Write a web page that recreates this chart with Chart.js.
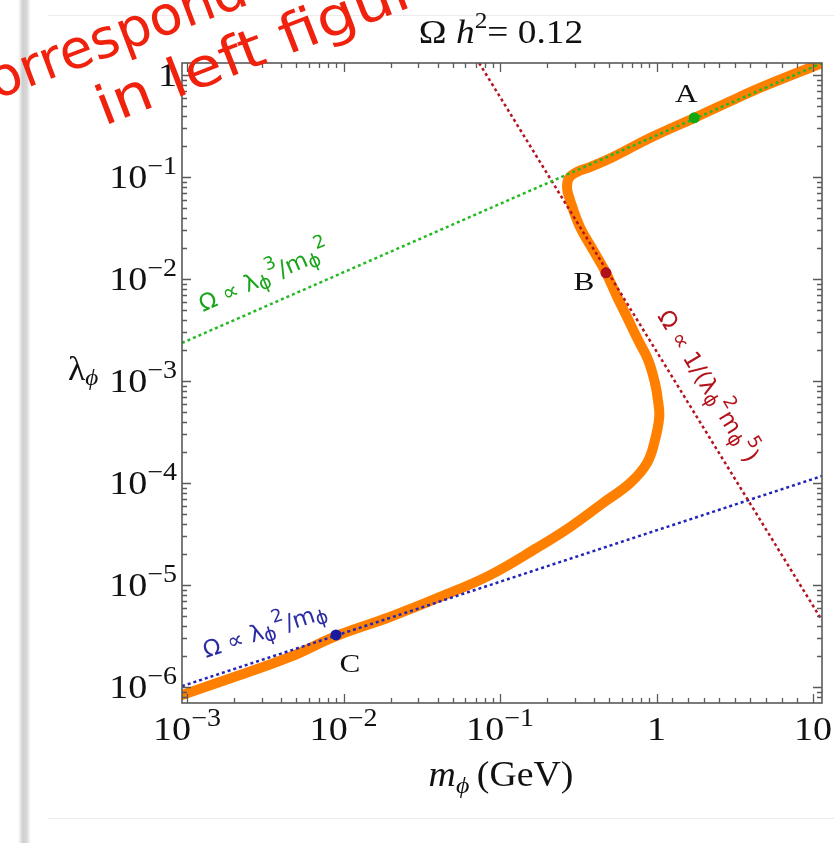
<!DOCTYPE html>
<html>
<head>
<meta charset="utf-8">
<script src="https://cdn.jsdelivr.net/npm/chart.js@4.4.1/dist/chart.umd.min.js"></script>
<style>
  html, body { margin: 0; padding: 0; background: #fff; }
  #wrap { width: 834px; height: 843px; position: relative; }
</style>
</head>
<body>
<div id="wrap"><canvas id="relic" width="834" height="843"></canvas></div>
<script>
// Omega h^2 = 0.12 contour (orange)
const orangeM = [9.29e-4, 2.18e-3, 4.55e-3, 8.95e-3, 1.98e-2, 4.14e-2, 8.63e-2, 0.172, 0.280, 0.455,
  0.678, 0.869, 0.977, 1.04, 1.02, 0.977, 0.883, 0.762, 0.647, 0.560, 0.475, 0.393, 0.324,
  0.280, 0.268, 0.276, 0.310, 0.376, 0.527, 0.908, 1.74, 3.08, 5.08, 11.4];
const orangeLambda = [8.35e-7, 1.31e-6, 1.97e-6, 3.16e-6, 4.86e-6, 7.63e-6, 1.25e-5, 2.31e-5, 3.7e-5, 6.37e-5,
  1.0e-4, 1.57e-4, 2.64e-4, 4.44e-4, 6.51e-4, 9.55e-4, 1.61e-3, 2.52e-3, 4.24e-3, 6.66e-3, 1.15e-2, 1.92e-2, 3.23e-2,
  5.95e-2, 7.8e-2, 9.78e-2, 0.112, 0.125, 0.157, 0.241, 0.379, 0.569, 0.798, 1.31];

// asymptotic scaling lines (end points)
const greenM = [9.29e-4, 11.4];
const greenLambda = [2.36e-3, 1.31];
const redM = [0.0735, 11.4];
const redLambda = [1.31, 4.5e-6];
const blueM = [9.29e-4, 11.4];
const blueLambda = [1.02e-6, 1.17e-4];

// benchmark points
const pointNames = ['A', 'B', 'C'];
const pointM = [1.74, 0.475, 8.95e-3];
const pointLambda = [0.38, 0.0115, 3.24e-6];

// axes
const xRange = [9.29e-4, 11.4];
const yRange = [6.97e-7, 1.31];
const xTickValues = [1e-3, 1e-2, 1e-1, 1, 10];
const xTickLabels = [['10', '−3'], ['10', '−2'], ['10', '−1'], ['1', ''], ['10', '']];
const yTickValues = [1e-6, 1e-5, 1e-4, 1e-3, 1e-2, 1e-1, 1];
const yTickLabels = [['10', '−6'], ['10', '−5'], ['10', '−4'], ['10', '−3'], ['10', '−2'], ['10', '−1'], ['1', '']];

const SERIF = '"Liberation Serif", "Times New Roman", serif';
const HAND = '"DejaVu Sans", sans-serif';

const pairs = (xs, ys) => xs.map((x, i) => ({ x: x, y: ys[i] }));

function drawParts(ctx, parts, x, y, o) {
  ctx.save();
  ctx.translate(x, y);
  if (o.angle) ctx.rotate(o.angle);
  ctx.scale(o.sx || 1, 1);
  ctx.fillStyle = o.color || '#111';
  ctx.textBaseline = 'alphabetic';
  ctx.textAlign = 'left';
  let w = 0;
  parts.forEach(p => { ctx.font = p.f; w += ctx.measureText(p.t).width; });
  let cx = o.align === 'center' ? -w / 2 : (o.align === 'right' ? -w : 0);
  parts.forEach(p => {
    ctx.font = p.f;
    ctx.fillText(p.t, cx, p.dy || 0);
    cx += ctx.measureText(p.t).width;
  });
  ctx.restore();
}

function tickParts(lbl) {
  const parts = [{ t: lbl[0], f: '34px ' + SERIF }];
  if (lbl[1]) parts.push({ t: lbl[1], f: '25px ' + SERIF, dy: -14 });
  return parts;
}

// minor tick positions
function minorTicks(lo, hi) {
  const out = [];
  for (let e = lo; e < hi; e++) for (let k = 2; k <= 9; k++) out.push(k * Math.pow(10, e));
  return out;
}
const xMinor = minorTicks(-4, 0);
for (let k = 1; k <= 11; k++) xMinor.push(Math.pow(10, k / 10));
const yMinor = minorTicks(-7, 0);

// slide background: shadow band + faint border lines
const paper = {
  id: 'paper',
  beforeDraw(chart) {
    const ctx = chart.ctx;
    ctx.save();
    ctx.fillStyle = '#fff';
    ctx.fillRect(0, 0, chart.width, chart.height);
    const g = ctx.createLinearGradient(18, 0, 31, 0);
    g.addColorStop(0, 'rgba(215,215,215,0)');
    g.addColorStop(0.35, '#cfcfcf');
    g.addColorStop(0.7, '#d8d8d8');
    g.addColorStop(1, 'rgba(235,235,235,0)');
    ctx.fillStyle = g;
    ctx.fillRect(18, 0, 13, chart.height);
    ctx.strokeStyle = '#ececec';
    ctx.lineWidth = 1;
    ctx.beginPath();
    ctx.moveTo(48, 15.5); ctx.lineTo(834, 15.5);
    ctx.moveTo(48, 818.5); ctx.lineTo(834, 818.5);
    ctx.stroke();
    ctx.restore();
  }
};

// Mathematica-style frame, ticks and labels
const frame = {
  id: 'frame',
  afterDatasetsDraw(chart) {
    const ctx = chart.ctx, a = chart.chartArea;
    const xs = chart.scales.x, ys = chart.scales.y;
    ctx.save();
    ctx.strokeStyle = '#5a5a5a';
    ctx.lineWidth = 1.3;
    ctx.beginPath();
    const tx = (v, len) => {
      const p = Math.round(xs.getPixelForValue(v)) + 0.5;
      if (p < a.left || p > a.right) return;
      ctx.moveTo(p, a.bottom); ctx.lineTo(p, a.bottom - len);
      ctx.moveTo(p, a.top); ctx.lineTo(p, a.top + len);
    };
    const ty = (v, len) => {
      const p = Math.round(ys.getPixelForValue(v)) + 0.5;
      if (p < a.top || p > a.bottom) return;
      ctx.moveTo(a.left, p); ctx.lineTo(a.left + len, p);
      ctx.moveTo(a.right, p); ctx.lineTo(a.right - len, p);
    };
    xMinor.forEach(v => tx(v, 5));
    xTickValues.forEach(v => tx(v, 9));
    yMinor.forEach(v => ty(v, 5));
    yTickValues.forEach(v => ty(v, 9));
    ctx.stroke();
    ctx.lineWidth = 1.6;
    ctx.strokeRect(a.left, a.top, a.right - a.left, a.bottom - a.top);
    ctx.restore();

    xTickValues.forEach((v, i) => {
      drawParts(ctx, tickParts(xTickLabels[i]), xs.getPixelForValue(v), 740, { align: 'center', sx: 1.12 });
    });
    yTickValues.forEach((v, i) => {
      drawParts(ctx, tickParts(yTickLabels[i]), 177, ys.getPixelForValue(v) + 11, { align: 'right', sx: 1.12 });
    });

    // title and axis titles
    drawParts(ctx, [
      { t: 'Ω ', f: '34px ' + SERIF },
      { t: 'h', f: 'italic 34px ' + SERIF },
      { t: '2', f: '23px ' + SERIF, dy: -15 },
      { t: '= 0.12', f: '34px ' + SERIF }
    ], 501, 43, { align: 'center', sx: 1.1 });
    drawParts(ctx, [
      { t: 'm', f: 'italic 35px ' + SERIF },
      { t: 'ϕ', f: 'italic 24px ' + SERIF, dy: 7 },
      { t: '\u2009(GeV)', f: '35px ' + SERIF }
    ], 501, 786, { align: 'center', sx: 1.08 });
    drawParts(ctx, [
      { t: 'λ', f: '34px ' + SERIF },
      { t: 'ϕ', f: 'italic 24px ' + SERIF, dy: 5 }
    ], 68, 380, { align: 'left', sx: 1.05 });

    // point letters
    const letterStyle = [
      { f: '26px ' + SERIF, dx: -8, dy: -16 },
      { f: '26px ' + SERIF, dx: -22, dy: 17 },
      { f: '26px ' + SERIF, dx: 14, dy: 37 }
    ];
    pointNames.forEach((n, i) => {
      const s = letterStyle[i];
      drawParts(ctx, [{ t: n, f: s.f }],
        xs.getPixelForValue(pointM[i]) + s.dx, ys.getPixelForValue(pointLambda[i]) + s.dy,
        { align: 'center', sx: 1.2, color: '#111' });
    });

    // scaling-law annotations along the dotted lines
    const big = '23px ' + HAND, sub = '19px ' + HAND, sup = '18px ' + HAND;
    drawParts(ctx, [
      { t: 'Ω ∝ λ', f: big }, { t: 'ϕ', f: sub, dy: 4 }, { t: '3', f: sup, dy: -12 },
      { t: '/m', f: big }, { t: 'ϕ', f: sub, dy: 4 }, { t: '2', f: sup, dy: -12 }
    ], 203, 312, { angle: -0.412, color: '#1aa51a' });
    drawParts(ctx, [
      { t: 'Ω ∝ 1/(λ', f: big }, { t: 'ϕ', f: sub, dy: 4 }, { t: '2', f: sup, dy: -12 },
      { t: 'm', f: big }, { t: 'ϕ', f: sub, dy: 4 }, { t: '5', f: sup, dy: -12 }, { t: ')', f: big }
    ], 657, 316, { angle: 1.025, color: '#b3131b' });
    drawParts(ctx, [
      { t: 'Ω ∝ λ', f: big }, { t: 'ϕ', f: sub, dy: 4 }, { t: '2', f: sup, dy: -12 },
      { t: '/m', f: big }, { t: 'ϕ', f: sub, dy: 4 }
    ], 206, 658, { angle: -0.318, color: '#2b2ba3' });
  },
  afterDraw(chart) {
    // handwritten slide overlay
    const ctx = chart.ctx;
    const f = '54px ' + HAND;
    drawParts(ctx, [{ t: 'correspond', f: f }], -32, 110, { angle: -0.36, color: '#f0210d' });
    drawParts(ctx, [{ t: 'in left figure', f: f }], 104, 126, { angle: -0.37, sx: 1.15, color: '#f0210d' });
  }
};

const dotted = (m, l, color) => ({
  data: pairs(m, l), showLine: true, borderColor: color, borderWidth: 2.5,
  borderDash: [3, 3], pointRadius: 0, fill: false, clip: 0, order: 1
});

new Chart(document.getElementById('relic'), {
  type: 'scatter',
  data: {
    datasets: [
      {
        data: pairs(pointM, pointLambda), pointRadius: 5.5, borderWidth: 0,
        backgroundColor: ['#12a812', '#b0101a', '#1a1aa0'], order: 0
      },
      dotted(greenM, greenLambda, '#22b922'),
      dotted(redM, redLambda, '#b5131e'),
      dotted(blueM, blueLambda, '#2424b8'),
      {
        data: pairs(orangeM, orangeLambda), showLine: true, borderColor: '#ff8000',
        borderWidth: 10, tension: 0.4, pointRadius: 0, fill: false, clip: 0, order: 2,
        borderJoinStyle: 'round', borderCapStyle: 'round'
      }
    ]
  },
  options: {
    responsive: false,
    animation: false,
    layout: { padding: { left: 182, top: 63, right: 12, bottom: 140 } },
    plugins: { legend: { display: false }, tooltip: { enabled: false } },
    scales: {
      x: { type: 'logarithmic', min: xRange[0], max: xRange[1], display: false },
      y: { type: 'logarithmic', min: yRange[0], max: yRange[1], display: false }
    }
  },
  plugins: [paper, frame]
});
</script>
</body>
</html>
